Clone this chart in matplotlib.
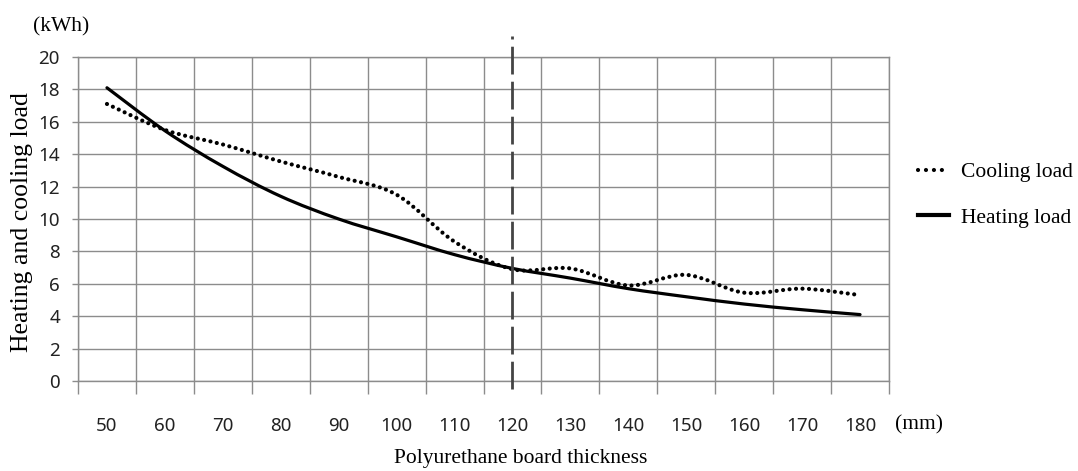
import matplotlib.pyplot as plt
from matplotlib.path import Path
from matplotlib.patches import PathPatch
from matplotlib.lines import Line2D

thickness = [50, 60, 70, 80, 90, 100, 110, 120, 130, 140, 150, 160, 170, 180]
heating = [18.1, 15.45, 13.25, 11.4, 10.0, 8.9, 7.8, 6.95, 6.35, 5.7, 5.2, 4.75, 4.4, 4.1]
cooling = [17.1, 15.5, 14.6, 13.55, 12.6, 11.5, 8.6, 6.9, 6.95, 5.9, 6.55, 5.45, 5.7, 5.3]
y_ticks = [0, 2, 4, 6, 8, 10, 12, 14, 16, 18, 20]
chosen = 120

serif = "Liberation Serif"
sans = "Noto Sans"


def smooth_path(xs, ys):
    # Excel-style smoothed line: Catmull-Rom segments as cubic Bezier curves
    pts = list(zip(xs, ys))
    n = len(pts)
    verts = [pts[0]]
    codes = [Path.MOVETO]
    for i in range(n - 1):
        p0 = pts[i - 1] if i > 0 else pts[i]
        p1 = pts[i]
        p2 = pts[i + 1]
        p3 = pts[i + 2] if i + 2 < n else pts[i + 1]
        c1 = (p1[0] + (p2[0] - p0[0]) / 6, p1[1] + (p2[1] - p0[1]) / 6)
        c2 = (p2[0] - (p3[0] - p1[0]) / 6, p2[1] - (p3[1] - p1[1]) / 6)
        verts += [c1, c2, p2]
        codes += [Path.CURVE4] * 3
    return Path(verts, codes)


fig = plt.figure(figsize=(10.78, 4.71), dpi=100)
ax = fig.add_axes([78 / 1078, 90 / 471, 811 / 1078, 324 / 471])

pos = list(range(len(thickness)))
ax.set_xlim(-0.5, len(thickness) - 0.5)
ax.set_ylim(0, 20)

ax.set_xticks(pos)
ax.set_xticklabels([str(t) for t in thickness], fontsize=13.5, family=sans, color="#222222")
ax.set_xticks([p - 0.5 for p in pos] + [pos[-1] + 0.5], minor=True)
ax.tick_params(axis="x", which="major", length=0, pad=26)
ax.tick_params(axis="x", which="minor", length=9, width=1, color="#8c8c8c", direction="out")
ax.set_yticks(y_ticks)
ax.set_yticklabels([str(v) for v in y_ticks], fontsize=13.5, family=sans, color="#222222")
ax.tick_params(axis="y", length=4, width=1, color="#8c8c8c", pad=9)

ax.grid(True, axis="y", color="#8c8c8c", lw=1)
ax.grid(True, axis="x", which="minor", color="#8c8c8c", lw=1)
for s in ax.spines.values():
    s.set_color("#8c8c8c")
    s.set_linewidth(1)
ax.set_axisbelow(True)

heat_patch = PathPatch(smooth_path(pos, heating), facecolor="none", edgecolor="black",
                       lw=2.3, capstyle="round", joinstyle="round", zorder=3)
cool_patch = PathPatch(smooth_path(pos, cooling), facecolor="none", edgecolor="black",
                       lw=3.0, linestyle=(0, (0.01, 1.55)), capstyle="round", zorder=3)
ax.add_patch(heat_patch)
ax.add_patch(cool_patch)

ax.axvline(thickness.index(chosen), ymin=-0.025, ymax=1.065, color="#444444", lw=2.0,
           linestyle=(0, (10, 2.6)), clip_on=False, zorder=4)

fig.text(61 / 1078, 1 - 27 / 471, "(kWh)", family=serif, fontsize=15.5, ha="center", va="center")
fig.text(919 / 1078, 1 - 425 / 471, "(mm)", family=serif, fontsize=15.5, ha="center", va="center")
fig.text(521 / 1078, 1 - 458 / 471, "Polyurethane board thickness", family=serif, fontsize=15.5,
         ha="center", va="center")
fig.text(22 / 1078, 1 - 222 / 471, "Heating and cooling load", family=serif, fontsize=18.5,
         rotation=90, ha="center", va="center")

handles = [
    Line2D([], [], color="black", lw=3.0, linestyle=(0, (0.01, 1.9)), dash_capstyle="round"),
    Line2D([], [], color="black", lw=3.0),
]
fig.legend(handles, ["Cooling load", "Heating load"], loc="center left",
           bbox_to_anchor=(918 / 1078, 1 - 195 / 471), frameon=False,
           prop={"family": serif, "size": 15.5}, handlelength=1.45, handletextpad=0.55,
           labelspacing=1.2, borderpad=0, borderaxespad=0)

fig.savefig("out.png", dpi=100)
